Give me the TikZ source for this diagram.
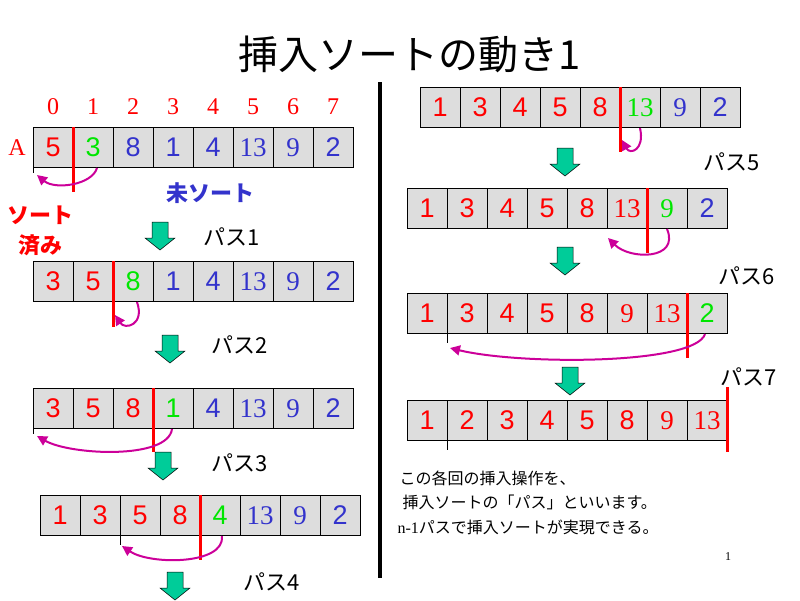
\documentclass[tikz,border=0pt]{standalone}
\usepackage{fontspec}
\setmainfont{Liberation Serif}
\newfontfamily\jp{Noto Sans CJK JP}
\newfontfamily\asans{Liberation Sans}
\usetikzlibrary{arrows.meta}
\definecolor{myred}{RGB}{255,0,0}
\definecolor{mygreen}{RGB}{0,230,0}
\definecolor{myblue}{RGB}{51,51,204}
\definecolor{mag}{RGB}{204,0,153}
\definecolor{garrow}{RGB}{0,204,153}
\definecolor{cellg}{RGB}{221,221,221}
\newcommand{\fs}{\asans}
\newcommand{\fm}{\rmfamily}
\tikzset{
  cell/.style={draw=black,fill=cellg,minimum width=40pt,minimum height=40pt,inner sep=0pt,anchor=north west,font=\fontsize{27}{27}\selectfont},
  bar/.style={draw=myred,line width=3pt},
  tick/.style={draw=black,line width=0.6pt},
  swap/.style={draw=mag,line width=2pt,-{Triangle[length=10pt,width=10pt]}},
  lab/.style={font=\jp\fontsize{22}{22}\selectfont},
  idx/.style={text=myred,font=\rmfamily\fontsize{24}{24}\selectfont},
  note/.style={anchor=west,font=\jp\fontsize{16}{16}\selectfont}
}
\newcommand{\arr}[4]{% name,x,y,list
  \foreach \c/\f/\t [count=\i from 0] in {#4}
    \node[cell,text=\c] (#1c\i) at ({#2+40*\i},#3) {\csname \f\endcsname\t};}
\newcommand{\garr}[3]{% name, x center, y top
  \fill[garrow,draw=black,line width=0.5pt] (#2-8,#3) -- (#2+8,#3) -- (#2+8,#3+16) -- (#2+15,#3+16) -- (#2,#3+28) -- (#2-15,#3+16) -- (#2-8,#3+16) -- cycle;
  \coordinate (#1) at (#2,#3);}
\begin{document}
\begin{tikzpicture}[x=1pt,y=-1pt]
\useasboundingbox (0,0) rectangle (800,600);
\node[font=\jp\fontsize{40}{40}\selectfont] (title) at (410,54) {挿入ソートの動き1};
% left column
\foreach \n [count=\i from 0] in {0,...,7} \node[idx] (ix\i) at ({53+40*\i},107) {\n};
\node[text=myred,font=\rmfamily\fontsize{24}{24}\selectfont] (A) at (17,148) {A};
\arr{a}{33}{127}{myred/fs/5,mygreen/fs/3,myblue/fs/8,myblue/fs/1,myblue/fs/4,myblue/fm/13,myblue/fm/9,myblue/fs/2}
\draw[bar] (73,127) -- (73,192);
\draw[tick] (ac0.south west) -- ++(0,6);
\draw[swap] (97,168) .. controls (92,185) and (55,190) .. (37,175);
\node[text=myblue,font=\jp\bfseries\fontsize{22}{22}\selectfont] (uns) at (210,193) {未ソート};
\node[text=myred,font=\jp\bfseries\fontsize{22}{22}\selectfont] (srt1) at (40,215) {ソート};
\node[text=myred,font=\jp\bfseries\fontsize{22}{22}\selectfont] (srt2) at (40,245) {済み};
\garr{g1}{160}{222}
\node[lab,anchor=west] (p1) at (200,237) {パス1};
\arr{b}{33}{261}{myred/fs/3,myred/fs/5,mygreen/fs/8,myblue/fs/1,myblue/fs/4,myblue/fm/13,myblue/fm/9,myblue/fs/2}
\draw[bar] (113,261) -- (113,327);
\draw[swap] (137,302) .. controls (145,325) and (125,330) .. (115,315);
\garr{g2}{170}{335}
\node[lab,anchor=west] (p2) at (208,345) {パス2};
\arr{c}{33}{388}{myred/fs/3,myred/fs/5,myred/fs/8,mygreen/fs/1,myblue/fs/4,myblue/fm/13,myblue/fm/9,myblue/fs/2}
\draw[bar] (153,388) -- (153,452);
\draw[tick] (cc0.south west) -- ++(0,6);
\draw[swap] (172,429) .. controls (168,460) and (70,455) .. (37,436);
\garr{g3}{163}{452}
\node[lab,anchor=west] (p3) at (208,463) {パス3};
\arr{d}{40}{495}{myred/fs/1,myred/fs/3,myred/fs/5,myred/fs/8,mygreen/fs/4,myblue/fm/13,myblue/fm/9,myblue/fs/2}
\draw[bar] (200,495) -- (200,560);
\draw[tick] (dc2.south west) -- ++(0,10);
\draw[swap] (222,536) .. controls (225,565) and (150,565) .. (122,546);
\garr{g4}{175}{572}
\node[lab,anchor=west] (p4) at (240,582) {パス4};
% divider
\draw[line width=4pt] (380,82) -- (380,578);
% right column
\arr{e}{420}{87}{myred/fs/1,myred/fs/3,myred/fs/4,myred/fs/5,myred/fs/8,mygreen/fm/13,myblue/fm/9,myblue/fs/2}
\draw[bar] (620,87) -- (620,152);
\draw[swap] (640,128) .. controls (645,150) and (630,155) .. (622,140);
\garr{g5}{565}{148}
\node[lab,anchor=west] (p5) at (700,162) {パス5};
\arr{f}{407}{188}{myred/fs/1,myred/fs/3,myred/fs/4,myred/fs/5,myred/fs/8,myred/fm/13,mygreen/fm/9,myblue/fs/2}
\draw[bar] (647,188) -- (647,253);
\draw[swap] (667,229) .. controls (680,260) and (630,260) .. (608,238);
\garr{g6}{565}{247}
\node[lab,anchor=west] (p6) at (715,276) {パス6};
\arr{g}{407}{293}{myred/fs/1,myred/fs/3,myred/fs/4,myred/fs/5,myred/fs/8,myred/fm/9,myred/fm/13,mygreen/fs/2}
\draw[bar] (687,293) -- (687,358);
\draw[tick] (gc1.south west) -- ++(0,10);
\draw[swap] (705,334) .. controls (695,365) and (520,365) .. (450,348);
\garr{g7}{570}{367}
\node[lab,anchor=west] (p7) at (717,377) {パス7};
\arr{h}{407}{400}{myred/fs/1,myred/fs/2,myred/fs/3,myred/fs/4,myred/fs/5,myred/fs/8,myred/fm/9,myred/fm/13}
\draw[bar] (727,387) -- (727,452);
\draw[tick] (hc1.south west) -- ++(0,10);
% notes
\node[note] (n1) at (396,478) {この各回の挿入操作を、};
\node[note] (n2) at (399,502) {挿入ソートの「パス」といいます。};
\node[note] (n3) at (394,527) {{\rmfamily n-1}パスで挿入ソートが実現できる。};
\node[font=\rmfamily\fontsize{12}{12}\selectfont] (pg) at (728,557) {1};
\end{tikzpicture}
\end{document}
